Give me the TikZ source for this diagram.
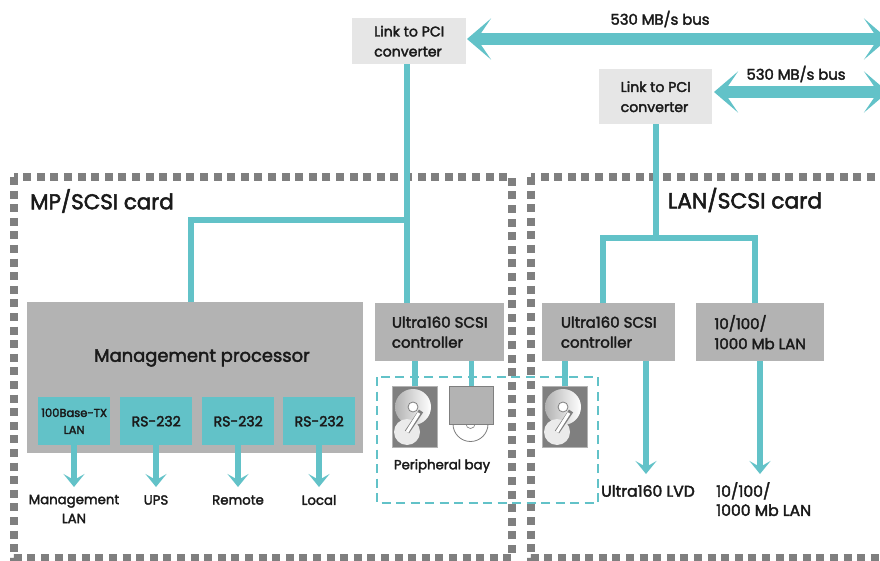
\documentclass[tikz,border=0pt]{standalone}
\usepackage{fontspec}
\setmainfont{Poppins}[FakeBold=2.4]
\usetikzlibrary{arrows.meta}
\definecolor{teal1}{HTML}{62C2C8}
\definecolor{boxg}{HTML}{B3B3B3}
\definecolor{lightg}{HTML}{E6E6E6}
\definecolor{frameg}{HTML}{7F7F7F}
\definecolor{ink}{HTML}{1A1A1A}
\newcommand{\fsmall}{\fontsize{14.1}{20}\selectfont}
\newcommand{\fctrl}{\fontsize{15}{20}\selectfont}
\newcommand{\fmid}{\fontsize{13.3}{19}\selectfont}
\newcommand{\fwide}{\fontsize{14.8}{19}\selectfont}
\newcommand{\fout}{\fontsize{15.6}{19}\selectfont}
\tikzset{
  frame/.style={draw=frameg,line width=8pt,dash pattern=on 8pt off 5.6pt},
  bay/.style={draw=teal1,line width=2.6pt,dash pattern=on 9pt off 5.5pt},
  pbox/.style={anchor=north west,inner sep=0pt,text=ink,align=left,font=\fsmall},
  graybox/.style={pbox,fill=boxg,font=\fctrl},
  linkbox/.style={pbox,fill=lightg},
  tealbox/.style={pbox,fill=teal1,align=center},
  wire/.style={draw=teal1,line width=5.5pt},
  down/.style={wire,-{Stealth[length=13pt,width=21pt,inset=6pt]}},
  bus/.style={draw=teal1,line width=11.5pt,{Stealth[length=24pt,width=41pt,inset=14pt]}-{Stealth[length=24pt,width=41pt,inset=14pt]}},
  lbl/.style={inner sep=0pt,text=ink,align=center,font=\fmid},
  drivebox/.style={anchor=north west,inner sep=0pt,fill=frameg,draw=boxg,line width=.6pt,minimum width=45pt,minimum height=61pt},
  cdbox/.style={anchor=north west,inner sep=0pt,fill=boxg,draw=frameg,line width=.6pt,minimum width=44pt,minimum height=38pt},
}
\newcommand{\diskicon}[1]{%
  \shade[left color=frameg!60,right color=white] ([shift={(21pt,-21pt)}]#1.north west) circle[radius=18pt];
  \fill[white!92!black] ([shift={(15pt,-46pt)}]#1.north west) circle[radius=13pt];
  \draw[frameg,line width=5pt] ([shift={(15pt,-46pt)}]#1.north west) -- ([shift={(29pt,-25pt)}]#1.north west);
  \draw[white,line width=3pt] ([shift={(15pt,-46pt)}]#1.north west) -- ([shift={(27pt,-27pt)}]#1.north west);
  \fill[white,draw=frameg,line width=.8pt] ([shift={(21pt,-21pt)}]#1.north west) circle[radius=5pt];
}
\begin{document}
\begin{tikzpicture}[x=1pt,y=-1pt]
\clip (0,0) rectangle (880,561);
\fill[white] (0,0) rectangle (880,561);
% card frames
\draw[frame] (14,177) rectangle (512,558);
\draw[frame] (531,177) rectangle (900,558);
\node[lbl,anchor=west,font=\fontsize{21.4}{24}\selectfont] (mpcard) at (30,201) {MP/SCSI card};
\node[lbl,font=\fontsize{21.8}{24}\selectfont] (lancard) at (745,200) {LAN/SCSI card};
% boxes
\node[linkbox,minimum width=114pt,minimum height=46pt] (linkA) at (352,18) {Link to PCI\\converter};
\node[linkbox,minimum width=113pt,minimum height=55pt] (linkB) at (599,69) {Link to PCI\\converter};
\node[graybox,minimum width=336pt,minimum height=151pt] (mgmt) at (27,302) {};
\node[lbl,font=\fontsize{17.9}{22}\selectfont] (mgmtlabel) at (202,358) {Management processor};
\node[graybox,minimum width=129pt,minimum height=58pt] (ultraA) at (375,303) {Ultra160 SCSI\\controller};
\node[graybox,minimum width=133pt,minimum height=58pt] (ultraB) at (542,303) {Ultra160 SCSI\\controller};
\node[graybox,minimum width=128pt,minimum height=58pt] (lanbox) at (696,303) {10/100/\\1000 Mb LAN};
\node[tealbox,minimum width=72pt,minimum height=48pt,font=\fontsize{11.5}{17}\selectfont] (tx) at (38,397) {100Base-TX\\LAN};
\node[tealbox,minimum width=72pt,minimum height=48pt] (rsA) at (120,397) {RS-232};
\node[tealbox,minimum width=72pt,minimum height=48pt] (rsB) at (202,397) {RS-232};
\node[tealbox,minimum width=72pt,minimum height=48pt] (rsC) at (283,397) {RS-232};
% drives
\node[drivebox] (diskA) at (392,386) {};
\node[drivebox] (diskB) at (542,386) {};
\fill[white,draw=boxg!70!black,line width=.8pt] (453,424) arc[start angle=180,end angle=360,radius=17.5pt] -- cycle;
\fill[white,draw=boxg!70!black,line width=.6pt] (466,424) arc[start angle=180,end angle=360,radius=4.5pt] -- cycle;
\node[cdbox] (cd) at (449,386) {};
\diskicon{diskA}
\diskicon{diskB}
% bay
\draw[bay] (377,377) rectangle (598,503);
% free ends and junctions
\coordinate (busAend) at (888,39);
\coordinate (busBend) at (888,92);
\coordinate (busAstart) at (467,39);
\coordinate (busBstart) at (714,92);
\coordinate (jA) at (407,220);
\coordinate (jAl) at (191,220);
\coordinate (jB) at (656,238);
\coordinate (jBl) at (603,238);
\coordinate (jBr) at (755,238);
% connectors
\draw[bus] (busAstart) -- (busAend);
\draw[bus] (busBstart) -- (busBend);
\draw[wire] (linkA.south -| jA) -- (ultraA.north -| jA);
\draw[wire,line join=miter] (jA) -- (jAl) -- (mgmt.north -| jAl);
\draw[wire] (linkB.south -| jB) -- (jB);
\draw[wire] (ultraB.north -| jBl) -- (jBl) -- (jBr) -- (lanbox.north -| jBr);
\draw[wire] (ultraA.south -| diskA.north) -- (diskA.north);
\draw[wire] (ultraA.south -| cd.north) -- (cd.north);
\draw[wire] (ultraB.south -| diskB.north) -- (diskB.north);
% output labels
\node[lbl] (lblM) at (74,509) {Management\\LAN};
\node[lbl] (lblU) at (156,500) {UPS};
\node[lbl] (lblR) at (238,500) {Remote};
\node[lbl] (lblL) at (319,500) {Local};
\node[lbl] (lblP) at (442,466) {Peripheral bay};
\node[lbl,font=\fout] (lblV) at (648,491) {Ultra160 LVD};
\node[lbl,anchor=north west,align=left,font=\fout] (lblN) at (716,482) {10/100/\\1000 Mb LAN};
\node[lbl,font=\fwide] (busAl) at (660,19) {530 MB/s bus};
\node[lbl,font=\fwide] (busBl) at (796,74) {530 MB/s bus};
% output arrows
\coordinate (tipM) at (74,487);
\coordinate (tipU) at (156,487);
\coordinate (tipR) at (238,487);
\coordinate (tipL) at (319,487);
\draw[down] (tx.south -| tipM) -- (tipM);
\draw[down] (rsA.south -| tipU) -- (tipU);
\draw[down] (rsB.south -| tipR) -- (tipR);
\draw[down] (rsC.south -| tipL) -- (tipL);
\coordinate (tipV) at (646,474);
\coordinate (tipN) at (760,474);
\draw[down] (ultraB.south -| tipV) -- (tipV);
\draw[down] (lanbox.south -| tipN) -- (tipN);
\end{tikzpicture}
\end{document}
